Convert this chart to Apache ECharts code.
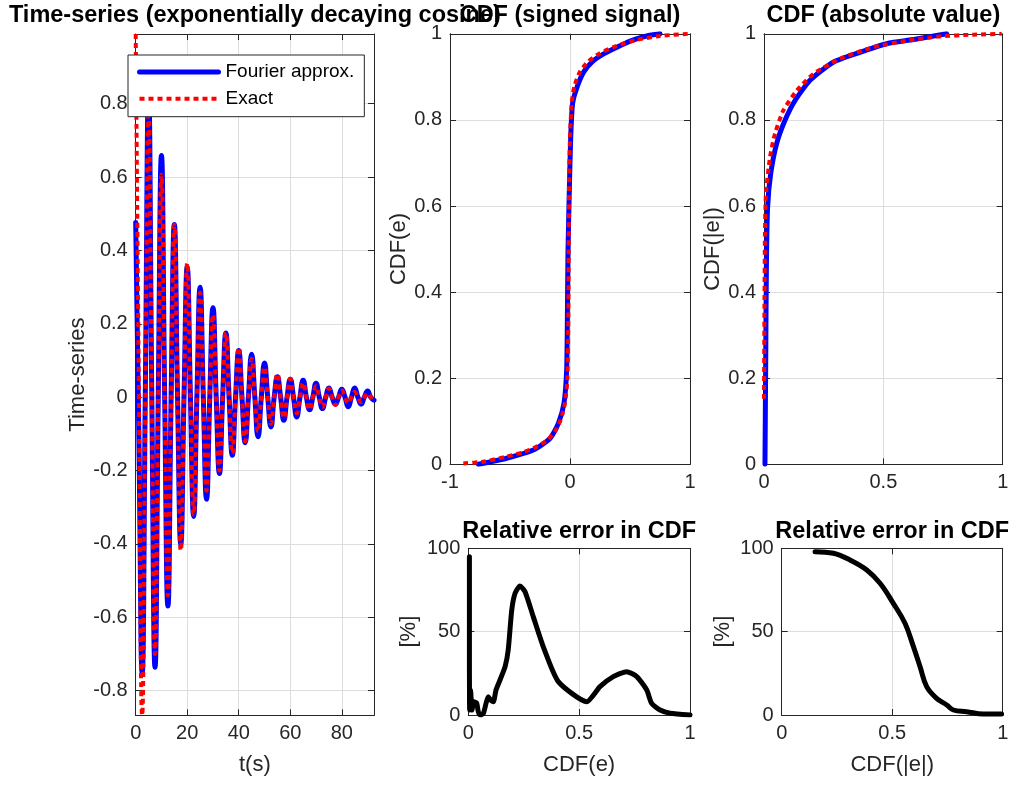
<!DOCTYPE html>
<html><head><meta charset="utf-8">
<script src="https://cdn.jsdelivr.net/npm/echarts@6/dist/echarts.min.js"></script>
<style>html,body{margin:0;padding:0;background:#fff}#c{width:1017px;height:787px}</style>
</head><body><div id="c"></div>
<script>
// ---------- data ----------
const timeS = [0,1.25,2.5,3.75,5,6.25,7.5,8.75,10,11.25,12.5,13.75,15,16.25,17.5,18.75,20,21.25,22.5,23.75,25,26.25,27.5,28.75,30,31.25,32.5,33.75,35,36.25,37.5,38.75,40,41.25,42.5,43.75,45,46.25,47.5,48.75,50,51.25,52.5,53.75,55,56.25,57.5,58.75,60,61.25,62.5,63.75,65,66.25,67.5,68.75,70,71.25,72.5,73.75,75,76.25,77.5,78.75,80,81.25,82.5,83.75,85,86.25,87.5,88.75,90,91.25,92.5];
const fourierTS = [0.476,-0.12,-0.752,0.03,0.83,0,-0.736,0,0.659,0,-0.569,0,0.471,0,-0.40,0,0.355,0,-0.325,0,0.300,0,-0.278,0,0.244,0,-0.208,0,0.175,0,-0.158,0,0.127,0,-0.124,0,0.117,0,-0.108,0,0.093,0,-0.081,0,0.056,0,-0.063,0,0.049,0,-0.054,0,0.046,0,-0.034,0,0.038,0,-0.031,0,0.025,0,-0.019,0,0.022,0,-0.026,0,0.025,0,-0.019,0,0.017,0,-0.008];
const exactTS = [0.99,0,-0.867,0,0.78,0,-0.70,0,0.607,0,-0.54,0,0.47,0,-0.418,0,0.365,0,-0.32,0,0.285,0,-0.255,0,0.225,0,-0.20,0,0.175,0,-0.153,0,0.135,0,-0.12,0,0.105,0,-0.093,0,0.082,0,-0.072,0,0.064,0,-0.057,0,0.05,0,-0.044,0,0.039,0,-0.034,0,0.030,0,-0.027,0,0.024,0,-0.021,0,0.018,0,-0.016,0,0.014,0,-0.013,0,0.011,0,-0.010];

const cdfSignedFourierX = [-0.764,-0.528,-0.306,-0.167,-0.097,-0.05,-0.028,-0.022,-0.017,-0.005,0.006,0.022,0.061,0.116,0.189,0.292,0.417,0.5,0.639,0.75];
const cdfSignedFourierY = [0,0.014,0.033,0.06,0.095,0.142,0.219,0.335,0.49,0.645,0.761,0.839,0.878,0.912,0.936,0.955,0.972,0.983,0.995,1.0];
const cdfSignedExactX = [-0.889,-0.722,-0.528,-0.389,-0.278,-0.194,-0.125,-0.078,-0.042,-0.022,-0.014,-0.011,-0.008,0.0,0.014,0.036,0.083,0.153,0.25,0.389,0.556,0.75,0.99];
const cdfSignedExactY = [0.002,0.006,0.018,0.028,0.041,0.055,0.076,0.103,0.142,0.196,0.335,0.49,0.645,0.761,0.839,0.878,0.912,0.936,0.955,0.972,0.986,0.995,1.0];

const cdfAbsFourierX = [0.004,0.007,0.01,0.015,0.028,0.053,0.088,0.13,0.193,0.29,0.402,0.514,0.64,0.765];
const cdfAbsFourierY = [0,0.226,0.458,0.597,0.675,0.745,0.799,0.845,0.892,0.934,0.957,0.977,0.988,1.0];
const cdfAbsExactX = [0.0,0.002,0.004,0.008,0.025,0.046,0.081,0.137,0.207,0.318,0.458,0.598,0.737,0.877,0.996];
const cdfAbsExactY = [0.152,0.381,0.536,0.628,0.713,0.768,0.822,0.868,0.907,0.942,0.969,0.984,0.994,0.998,1.0];

const relErrSignedX = [0.005,0.005,0.006,0.01,0.017,0.025,0.038,0.045,0.053,0.068,0.08,0.09,0.1,0.113,0.125,0.143,0.166,0.18,0.196,0.211,0.233,0.256,0.293,0.338,0.406,0.534,0.594,0.654,0.714,0.76,0.805,0.827,0.865,0.91,1.0];
const relErrSignedY = [95,40,3,15,3,8,7,2,0,1,7,11,9,8,15,21,29,39,63,73,77.4,74,59,41,20,8,17,23,26,23,15,7,3,1,0];
const relErrAbsX = [0.151,0.234,0.309,0.385,0.445,0.505,0.558,0.596,0.626,0.656,0.701,0.747,0.777,0.837,0.912,0.995];
const relErrAbsY = [98,97,93,87,79,67,55,41,29,17,10,6,3,2,0.6,0.6];

const titles = ['Time-series (exponentially decaying cosine)','CDF (signed signal)','CDF (absolute value)','Relative error in CDF','Relative error in CDF'];

// ---------- helpers ----------
const FONT = 'Liberation Sans, Arial, Helvetica, sans-serif';
const AX = '#262626';
function zip(a, b) { return a.map((v, i) => [v, b[i]]); }

const grids = [
  {left:135.7, top:34, width:238.3, height:681.3},
  {left:450, top:33.8, width:240, height:430.5},
  {left:764, top:33.8, width:238.7, height:430.5},
  {left:468.3, top:548.3, width:221.7, height:166.7},
  {left:781.7, top:548.3, width:221, height:166.7}
];

function base(extra, deco) {
  const a = {
    type:'value',
    axisLine:{show:true, onZero:false, lineStyle:{color:AX, width:1}},
    axisTick:{show:true, inside:true, length:6, lineStyle:{color:AX}},
    axisLabel:{show:!deco, color:AX, fontSize:20, fontFamily:FONT, margin:8},
    splitLine:{show:!deco, lineStyle:{color:'#dedede', width:1}},
    nameTextStyle:{color:AX, fontSize:22, fontFamily:FONT}
  };
  return Object.assign(a, extra);
}
const xCfg = [
  {min:0, max:92.5, interval:20, name:'t(s)', nameGap:39,
   fmt:v => (Math.abs(v/20 - Math.round(v/20)) < 1e-6 ? String(v) : '')},
  {min:-1, max:1, interval:1},
  {min:0, max:1, interval:0.5},
  {min:0, max:1, interval:0.5, name:'CDF(e)', nameGap:39},
  {min:0, max:1, interval:0.5, name:'CDF(|e|)', nameGap:39}
];
const yCfg = [
  {min:-0.867, max:0.99, splitNumber:9, name:'Time-series', nameGap:38,
   fmt:v => (Math.abs(v*5 - Math.round(v*5)) < 1e-6 ? String(+v.toFixed(1)) : '')},
  {min:0, max:1, interval:0.2, name:'CDF(e)', nameGap:37},
  {min:0, max:1, interval:0.2, name:'CDF(|e|)', nameGap:37},
  {min:0, max:100, interval:50, name:'[%]', nameGap:48},
  {min:0, max:100, interval:50, name:'[%]', nameGap:48}
];

const xAxis = [], yAxis = [];
grids.forEach((g, i) => {
  const xc = xCfg[i], yc = yCfg[i];
  const xp = {gridIndex:i, position:'bottom', min:xc.min, max:xc.max};
  if (xc.interval) xp.interval = xc.interval;
  const xa = base(xp, false);
  if (xc.name) { xa.name = xc.name; xa.nameLocation = 'middle'; xa.nameGap = xc.nameGap; }
  if (xc.fmt) xa.axisLabel.formatter = xc.fmt;
  xAxis.push(xa);
  xAxis.push(base(Object.assign({}, xp, {position:'top'}), true));

  const yp = {gridIndex:i, position:'left', min:yc.min, max:yc.max};
  if (yc.interval) yp.interval = yc.interval;
  if (yc.splitNumber) yp.splitNumber = yc.splitNumber;
  const ya = base(yp, false);
  if (yc.name) { ya.name = yc.name; ya.nameLocation = 'middle'; ya.nameGap = yc.nameGap; }
  if (yc.fmt) ya.axisLabel.formatter = yc.fmt;
  if (yc.splitNumber) { ya.axisLabel.showMinLabel = false; ya.axisLabel.showMaxLabel = false; }
  yAxis.push(ya);
  yAxis.push(base(Object.assign({}, yp, {position:'right'}), true));
});

function lineSeries(name, gi, data, color, width, dotted, smooth) {
  return {
    name, type:'line', xAxisIndex:gi*2, yAxisIndex:gi*2, data,
    showSymbol:false, symbol:'none', smooth: smooth, clip:true,
    lineStyle: dotted ? {color, width, type:[5,4], cap:'butt'} : {color, width, cap:'round', join:'round'},
    itemStyle:{color}, z: dotted ? 3 : 2, animation:false
  };
}

const series = [
  lineSeries('Fourier approx.', 0, zip(timeS, fourierTS), '#0000ff', 5, false, 0.5),
  lineSeries('Exact', 0, zip(timeS, exactTS), '#ff0000', 4, true, 0.5),
  lineSeries('Fourier CDF signed', 1, zip(cdfSignedFourierX, cdfSignedFourierY), '#0000ff', 5, false, 0.2),
  lineSeries('Exact CDF signed', 1, zip(cdfSignedExactX, cdfSignedExactY), '#ff0000', 4, true, 0.2),
  lineSeries('Fourier CDF abs', 2, zip(cdfAbsFourierX, cdfAbsFourierY), '#0000ff', 5, false, 0.2),
  lineSeries('Exact CDF abs', 2, zip(cdfAbsExactX, cdfAbsExactY), '#ff0000', 4, true, 0.2),
  lineSeries('Rel err signed', 3, zip(relErrSignedX, relErrSignedY), '#000000', 5, false, 0.2),
  lineSeries('Rel err abs', 4, zip(relErrAbsX, relErrAbsY), '#000000', 5, false, 0.4)
];

const titleCenters = [254.9, 570, 883.4, 579.2, 892.2];
const titleTops = [4, 4, 4, 520, 520];
const title = titles.map((t, i) => ({
  text:t, left:titleCenters[i], top:titleTops[i], textAlign:'center', padding:0,
  textStyle:{fontSize:23.5, fontWeight:'bold', color:'#000', fontFamily:FONT, lineHeight:24}
}));

const option = {
  animation:false,
  backgroundColor:'#fff',
  title,
  grid: grids.map(g => Object.assign({containLabel:false, outerBoundsMode:'none'}, g)),
  xAxis, yAxis, series,
  legend:{
    show:true, left:128, top:55, orient:'vertical',
    backgroundColor:'#fff', borderColor:AX, borderWidth:1, borderRadius:0,
    padding:[7,10,8,9], itemWidth:79, itemHeight:14, itemGap:6.7,
    textStyle:{fontSize:19, color:'#000', fontFamily:FONT, lineHeight:20, padding:[0,0,0,2]},
    data:[
      {name:'Fourier approx.', lineStyle:{width:5, color:'#0000ff'}, itemStyle:{opacity:0}},
      {name:'Exact', lineStyle:{width:4, color:'#ff0000', type:[5,4]}, itemStyle:{opacity:0}}
    ],
    selectedMode:false
  }
};
const chart = echarts.init(document.getElementById('c'), null, {renderer:'canvas'});
chart.setOption(option);
</script>
</body></html>
